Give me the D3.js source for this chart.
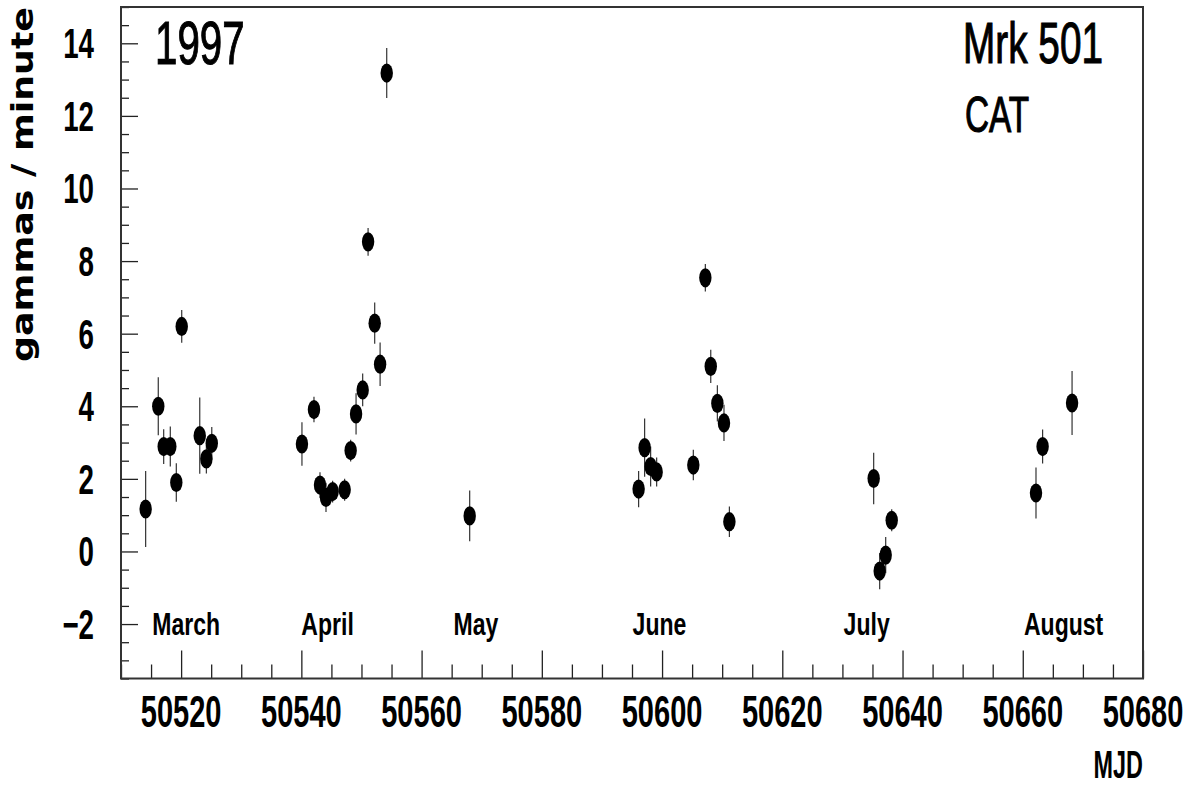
<!DOCTYPE html>
<html>
<head>
<meta charset="utf-8">
<script src="https://cdn.jsdelivr.net/npm/d3@7"></script>
<style>
  html, body { margin: 0; padding: 0; background: #fff; }
  svg { display: block; }
  text { font-family: "Liberation Sans", Arial, Helvetica, sans-serif; fill: #000; font-weight: bold; }
  text.big { font-weight: normal; stroke: #000; stroke-width: 1.1px; }
</style>
</head>
<body>
<svg id="chart" width="1192" height="786"></svg>
<script>
// ---- data ----
const mjd = [
  50514.1, 50516.2, 50517.1, 50518.2, 50519.2, 50520.1, 50523.1, 50524.2, 50525.1,
  50540.1, 50542.1, 50543.1, 50544.1, 50545.2, 50547.2, 50548.2, 50549.1, 50550.2,
  50551.1, 50552.2, 50553.1, 50554.2,
  50568.0,
  50596.1, 50597.1, 50598.1, 50599.1, 50605.2, 50607.2, 50608.1, 50609.2, 50610.3, 50611.2,
  50635.2, 50636.2, 50637.2, 50638.2,
  50662.2, 50663.3, 50668.2
];
const rate = [
  1.17, 4.0, 2.89, 2.89, 1.9, 6.2, 3.19, 2.55, 2.98,
  2.96, 3.91, 1.83, 1.49, 1.65, 1.70, 2.78, 3.79, 4.45,
  8.53, 6.29, 5.16, 13.18,
  0.98,
  1.72, 2.86, 2.34, 2.19, 2.38, 7.54, 5.10, 4.08, 3.54, 0.82,
  2.01, -0.54, -0.10, 0.86,
  1.61, 2.89, 4.09
];
const rateErr = [
  1.05, 0.80, 0.48, 0.55, 0.53, 0.45, 1.05, 0.40, 0.45,
  0.60, 0.35, 0.35, 0.40, 0.30, 0.30, 0.30, 0.57, 0.45,
  0.38, 0.57, 0.60, 0.69,
  0.70,
  0.50, 0.80, 0.55, 0.40, 0.42, 0.38, 0.46, 0.50, 0.50, 0.42,
  0.71, 0.50, 0.50, 0.30,
  0.70, 0.47, 0.88
];
const xMajorTicks = [50520, 50540, 50560, 50580, 50600, 50620, 50640, 50660, 50680];
const yMajorTicks = [-2, 0, 2, 4, 6, 8, 10, 12, 14];
const monthNames = ["March", "April", "May", "June", "July", "August"];
const monthMjd   = [50515.2, 50540.0, 50565.3, 50595.1, 50630.2, 50660.2];
const monthRate  = -2.31;
const xDomain = [50510, 50680];
const yDomain = [-3.5, 15];
const xTitle = "MJD";
const yTitle = "gammas / minute";
const yearLabel = "1997";
const sourceLabel = "Mrk 501";
const instrLabel = "CAT";

// ---- layout ----
const svg = d3.select("#chart");
const L = 121, R = 1143, T = 7, B = 678.5;
const x = d3.scaleLinear().domain(xDomain).range([L, R]);
const y = d3.scaleLinear().domain(yDomain).range([B, T]);
const SX = 0.66; // horizontal condensation of the text

function stretchedText(g, str, px, py, size, anchor, sx) {
  return g.append("text")
    .attr("transform", `translate(${px},${py}) scale(${sx},1)`)
    .attr("text-anchor", anchor)
    .style("font-size", size + "px")
    .text(str);
}

// ---- axes via d3 ----
const xMinor = d3.range(xDomain[0], xDomain[1] + 0.001, 5).filter(v => !xMajorTicks.includes(v));
const yMinor = d3.range(yDomain[0], yDomain[1] + 0.001, 0.5).filter(v => !yMajorTicks.includes(v));

const xAxisMajor = d3.axisBottom(x).tickValues(xMajorTicks).tickSize(-28).tickFormat("");
const xAxisMinor = d3.axisBottom(x).tickValues(xMinor).tickSize(-14).tickFormat("");
const yAxisMajor = d3.axisLeft(y).tickValues(yMajorTicks).tickSize(-17).tickFormat("");
const yAxisMinor = d3.axisLeft(y).tickValues(yMinor).tickSize(-8).tickFormat("");

function styleAxis(g) {
  g.select(".domain").remove();
  g.selectAll(".tick line").attr("stroke", "#222").attr("stroke-width", 1.3);
}
svg.append("g").attr("transform", `translate(0,${B})`).call(xAxisMajor).call(styleAxis);
svg.append("g").attr("transform", `translate(0,${B})`).call(xAxisMinor).call(styleAxis);
svg.append("g").attr("transform", `translate(${L},0)`).call(yAxisMajor).call(styleAxis);
svg.append("g").attr("transform", `translate(${L},0)`).call(yAxisMinor).call(styleAxis);

// frame
svg.append("rect")
  .attr("x", L).attr("y", T).attr("width", R - L).attr("height", B - T)
  .attr("fill", "none").attr("stroke", "#333").attr("stroke-width", 2);

// tick labels
const labels = svg.append("g");
xMajorTicks.forEach(v => stretchedText(labels, String(v), x(v), 727, 44, "middle", SX));
yMajorTicks.forEach(v => stretchedText(labels, v < 0 ? "\u2212" + Math.abs(v) : String(v), 94, y(v) + 15, 42, "end", SX));

// axis titles
stretchedText(svg, xTitle, R, 778, 39, "end", 0.6);
svg.append("text")
  .attr("transform", `translate(33,${T}) rotate(-90)`)
  .attr("text-anchor", "end")
  .attr("textLength", 355)
  .attr("lengthAdjust", "spacingAndGlyphs")
  .style("font-size", "31px")
  .style("font-family", "'DejaVu Sans', sans-serif")
  .text(yTitle);

// labels in plot
stretchedText(svg, yearLabel, 155, 64, 61, "start", SX).attr("class", "big");
stretchedText(svg, sourceLabel, 963, 63, 57, "start", 0.68).attr("class", "big");
stretchedText(svg, instrLabel, 965, 132, 49, "start", 0.68).attr("class", "big");

// month labels
const mg = svg.append("g");
monthNames.forEach((m, i) => {
  stretchedText(mg, m, x(monthMjd[i]), y(monthRate), 32, "start", 0.72);
});

// ---- data marks ----
const pts = mjd.map((d, i) => ({ d, v: rate[i], e: rateErr[i] }));
svg.append("g").selectAll("line").data(pts).join("line")
  .attr("x1", p => x(p.d)).attr("x2", p => x(p.d))
  .attr("y1", p => y(p.v - p.e)).attr("y2", p => y(p.v + p.e))
  .attr("stroke", "#333").attr("stroke-width", 1.2);
svg.append("g").selectAll("ellipse").data(pts).join("ellipse")
  .attr("cx", p => x(p.d)).attr("cy", p => y(p.v))
  .attr("rx", 6.2).attr("ry", 9.6)
  .attr("fill", "#000");
</script>
</body>
</html>
